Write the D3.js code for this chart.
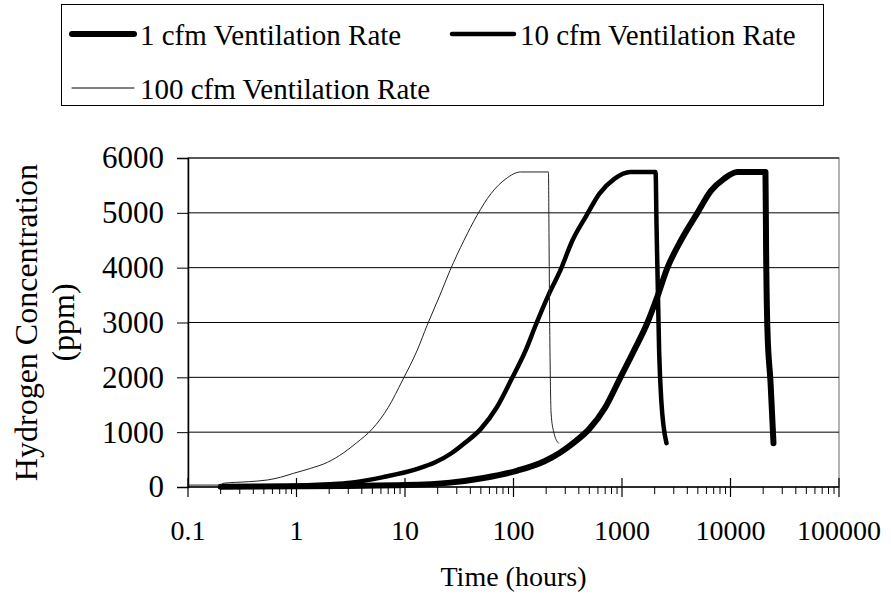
<!DOCTYPE html>
<html>
<head>
<meta charset="utf-8">
<script src="https://cdn.jsdelivr.net/npm/d3@7"></script>
<style>
  body { margin: 0; background: #fff; }
  svg text { font-family: "Liberation Serif", "Times New Roman", Times, serif; fill: #000; }
</style>
</head>
<body>
<div id="chart"></div>
<script>
// DATA -------------------------------------------------------------------
const xTicks = [0.1, 1, 10, 100, 1000, 10000, 100000];
const xLabels = ['0.1', '1', '10', '100', '1000', '10000', '100000'];
const yTicks = [0, 1000, 2000, 3000, 4000, 5000, 6000];

// 1 cfm ventilation rate
const hours1 = [0.2, 3, 10, 26, 53, 109, 193, 270, 360, 500, 700, 968, 1300, 1718, 2100, 2625, 3500, 4960, 6600, 8700, 11600, 21000, 21300, 21900, 23400, 24900];
const ppm1   = [5, 20, 35, 80, 165, 300, 470, 630, 810, 1060, 1450, 2000, 2500, 3000, 3450, 4000, 4500, 5000, 5400, 5620, 5745, 5745, 4270, 2860, 1900, 800];

// 10 cfm ventilation rate
const hours10 = [0.2, 1, 2, 3.15, 6.3, 13, 19, 27, 36, 50, 70, 95, 130, 160, 210, 270, 350, 470, 620, 850, 1200, 2040, 2080, 2200, 2300, 2570];
const ppm10   = [10, 25, 50, 78, 180, 330, 450, 620, 810, 1060, 1450, 1950, 2500, 2950, 3500, 3950, 4500, 4950, 5350, 5620, 5745, 5745, 4800, 2460, 1590, 800];

// 100 cfm ventilation rate
const hours100 = [0.1, 0.2, 0.21, 0.36, 0.54, 0.71, 0.94, 1.35, 1.93, 2.7, 3.6, 5, 7, 9.5, 13, 16, 21, 26, 35, 46, 62, 85, 116, 210, 212, 215, 218, 222, 235, 260];
const ppm100   = [35, 35, 67, 97, 128, 177, 250, 340, 450, 620, 810, 1060, 1450, 1950, 2500, 2950, 3500, 3950, 4500, 4950, 5350, 5620, 5745, 5745, 4830, 3230, 2130, 1350, 1000, 800];

const seriesNames = ['1 cfm Ventilation Rate', '10 cfm Ventilation Rate', '100 cfm Ventilation Rate'];

// CHART INIT -------------------------------------------------------------
const W = 891, H = 613;
const plot = {left: 188, right: 839, top: 158, bottom: 487};

const svg = d3.select('#chart')
  .append('svg')
  .attr('width', W)
  .attr('height', H);

const xScale = d3.scaleLog()
  .domain([0.1, 100000])
  .range([plot.left, plot.right]);

const yScale = d3.scaleLinear()
  .domain([0, 6000])
  .range([plot.bottom, plot.top]);

// plot frame (grey) and gridlines
svg.append('rect')
  .attr('x', plot.left).attr('y', plot.top)
  .attr('width', plot.right - plot.left).attr('height', plot.bottom - plot.top)
  .attr('fill', 'none').attr('stroke', '#999').attr('stroke-width', 1.5);

svg.append('g')
  .selectAll('line')
  .data(yTicks.filter(d => d > 0))
  .enter().append('line')
  .attr('x1', plot.left).attr('x2', plot.right)
  .attr('y1', d => yScale(d)).attr('y2', d => yScale(d))
  .attr('stroke', '#000').attr('stroke-width', 1);

// y axis
const yAxis = d3.axisLeft(yScale)
  .tickValues(yTicks)
  .tickSize(11)
  .tickPadding(13)
  .tickFormat(d3.format('d'));

svg.append('g')
  .attr('class', 'axis y-axis')
  .attr('transform', 'translate(' + plot.left + ',0)')
  .call(yAxis)
  .call(g => g.attr('font-family', null).attr('font-size', null))
  .call(g => g.select('.domain').attr('stroke', '#000').attr('stroke-width', 1.5))
  .call(g => g.selectAll('.tick line').attr('stroke', '#000'))
  .call(g => g.selectAll('.tick text').attr('font-size', 31));

// x axis: minor ticks below, decade ticks crossing the axis
const minor = [];
for (let i = 0; i < xTicks.length - 1; i++) {
  for (let k = 2; k <= 9; k++) minor.push(xTicks[i] * k);
}

const xg = svg.append('g').attr('class', 'axis x-axis');

xg.append('line')
  .attr('x1', plot.left).attr('x2', plot.right)
  .attr('y1', plot.bottom).attr('y2', plot.bottom)
  .attr('stroke', '#000').attr('stroke-width', 1.5);

xg.selectAll('.minor')
  .data(minor)
  .enter().append('line')
  .attr('class', 'minor')
  .attr('x1', d => xScale(d)).attr('x2', d => xScale(d))
  .attr('y1', plot.bottom).attr('y2', plot.bottom + 7)
  .attr('stroke', '#000');

xg.selectAll('.major')
  .data(xTicks)
  .enter().append('line')
  .attr('class', 'major')
  .attr('x1', d => xScale(d)).attr('x2', d => xScale(d))
  .attr('y1', plot.bottom - 9).attr('y2', plot.bottom + 10)
  .attr('stroke', '#000').attr('stroke-width', 1.2);

xg.selectAll('.label')
  .data(xTicks)
  .enter().append('text')
  .attr('class', 'label')
  .attr('x', d => Math.min(xScale(d), W - 48))
  .attr('y', 540)
  .attr('text-anchor', 'middle')
  .attr('font-size', 28)
  .text((d, i) => xLabels[i]);

// axis titles
svg.append('text')
  .attr('x', (plot.left + plot.right) / 2)
  .attr('y', 586)
  .attr('text-anchor', 'middle')
  .attr('font-size', 28)
  .text('Time (hours)');

const yTitle = svg.append('text')
  .attr('transform', 'translate(37,' + (plot.top + plot.bottom) / 2 + ') rotate(-90)')
  .attr('text-anchor', 'middle')
  .attr('font-size', 32);
yTitle.append('tspan').attr('x', 0).attr('dy', 0).text('Hydrogen Concentration');
yTitle.append('tspan').attr('x', 0).attr('dy', 37).text('(ppm)');

// LINES ------------------------------------------------------------------
const series = [
  {name: seriesNames[0], hours: hours1, ppm: ppm1, width: 6},
  {name: seriesNames[1], hours: hours10, ppm: ppm10, width: 4.5},
  {name: seriesNames[2], hours: hours100, ppm: ppm100, width: 1}
];

const line = d3.line()
  .x(d => xScale(d[0]))
  .y(d => yScale(d[1]))
  .curve(d3.curveMonotoneX);

svg.append('g')
  .selectAll('path')
  .data(series)
  .enter().append('path')
  .attr('d', d => line(d.hours.map((h, i) => [h, d.ppm[i]])))
  .attr('fill', 'none')
  .attr('stroke', d => d.width > 1 ? '#000' : '#222')
  .attr('stroke-width', d => d.width)
  .attr('stroke-linecap', 'round')
  .attr('stroke-linejoin', 'round');

// LEGEND -----------------------------------------------------------------
svg.append('rect')
  .attr('x', 61.5).attr('y', 4.5)
  .attr('width', 762).attr('height', 101)
  .attr('fill', '#fff').attr('stroke', '#000').attr('stroke-width', 1);

const legendPos = [[72, 34], [452, 34], [72, 88]];

const items = svg.append('g')
  .selectAll('g')
  .data(series)
  .enter().append('g')
  .attr('transform', (d, i) => 'translate(' + legendPos[i][0] + ',' + legendPos[i][1] + ')');

items.append('line')
  .attr('x1', 0).attr('x2', 62)
  .attr('stroke', '#000')
  .attr('stroke-width', d => d.width)
  .attr('stroke-linecap', 'round');

items.append('text')
  .attr('x', 68)
  .attr('y', 11)
  .attr('font-size', 29)
  .text(d => d.name);
</script>
</body>
</html>
